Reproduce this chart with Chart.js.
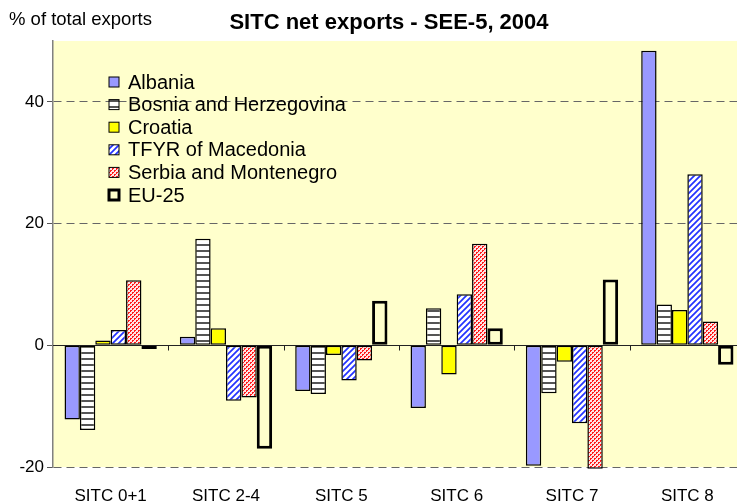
<!DOCTYPE html>
<html><head><meta charset="utf-8">
<script src="https://cdn.jsdelivr.net/npm/chart.js@4.4.1/dist/chart.umd.min.js"></script>
<style>
html,body{margin:0;padding:0;background:#fff;overflow:hidden;width:737px;height:502px}
#wrap{position:relative;width:745px;height:502px}
</style>
</head><body><div id="wrap"><canvas id="c" width="745" height="502"></canvas></div>
<script>
const chartTitle = 'SITC net exports - SEE-5, 2004';
const yAxisTitle = '% of total exports';
const categories = ['SITC 0+1', 'SITC 2-4', 'SITC 5', 'SITC 6', 'SITC 7', 'SITC 8'];
const seriesNames = ['Albania', 'Bosnia and Herzegovina', 'Croatia', 'TFYR of Macedonia', 'Serbia and Montenegro', 'EU-25'];
const albania   = [-12.2,   1.4, -7.5, -10.3, -19.8, 48.4];
const bosnia    = [-13.9,  17.5, -8.0,   6.1,  -7.9,  6.7];
const croatia   = [  0.8,   2.8, -1.6,  -4.8,  -2.7,  5.8];
const macedonia = [  2.5,  -9.1, -5.8,   8.4, -12.8, 28.1];
const serbia    = [ 10.7,  -8.6, -2.5,  16.7, -20.3,  3.9];
const eu25      = [ -0.6, -17.0,  7.3,   2.8,  10.8, -3.2];
const yTicks = [-20, 0, 20, 40];
const yMin = -20, yMax = 50;

const FONT = '"Liberation Sans", Arial, sans-serif';
const plotBg = '#FFFFCC';

function makePattern(w, h, bg, draw) {
  const c = document.createElement('canvas');
  c.width = w; c.height = h;
  const g = c.getContext('2d');
  g.fillStyle = bg; g.fillRect(0, 0, w, h);
  draw(g);
  return document.getElementById('c').getContext('2d').createPattern(c, 'repeat');
}
const bosniaPat = makePattern(8, 6, '#fff', g => { g.fillStyle = '#555'; g.fillRect(0, 4, 8, 2); });
const macedPat = makePattern(6, 6, '#fff', g => {
  g.strokeStyle = '#2233ff'; g.lineWidth = 1.7;
  g.beginPath();
  g.moveTo(-1, 7); g.lineTo(7, -1);
  g.moveTo(-4, 4); g.lineTo(4, -4);
  g.moveTo(2, 10); g.lineTo(10, 2);
  g.stroke();
});
const serbiaPat = makePattern(4, 4, '#ffe4e4', g => {
  g.fillStyle = '#ff1a1a';
  g.fillRect(0, 0, 2, 1); g.fillRect(0, 1, 1, 1);
  g.fillRect(2, 2, 2, 1); g.fillRect(2, 3, 1, 1);
});

const seriesData = [albania, bosnia, croatia, macedonia, serbia, eu25];
const fills = ['#9999FF', bosniaPat, '#FFFF00', macedPat, serbiaPat, plotBg];

const bgPlugin = {
  id: 'bg',
  beforeDraw(chart) {
    const {ctx, chartArea: a} = chart;
    ctx.save(); ctx.fillStyle = plotBg;
    ctx.fillRect(a.left, a.top, a.right - a.left, a.bottom - a.top);
    ctx.restore();
  },
  beforeDatasetsDraw(chart) {
    const {ctx, chartArea: a, scales} = chart;
    const y0 = Math.round(scales.y.getPixelForValue(0)) + 0.5;
    ctx.save();
    ctx.strokeStyle = '#222'; ctx.lineWidth = 1;
    ctx.beginPath(); ctx.moveTo(a.left, y0); ctx.lineTo(a.right, y0); ctx.stroke();
    const x = scales.x;
    ctx.beginPath();
    for (let i = 0; i < categories.length - 1; i++) {
      const bx = Math.round((x.getPixelForValue(i) + x.getPixelForValue(i + 1)) / 2) + 0.5;
      ctx.moveTo(bx, y0); ctx.lineTo(bx, y0 + 5);
    }
    ctx.stroke();
    ctx.restore();
  },
  afterDraw(chart) {
    const {ctx, chartArea: a} = chart;
    ctx.save();
    ctx.fillStyle = '#000';
    ctx.textBaseline = 'middle';
    ctx.font = 'bold 22px ' + FONT; ctx.textAlign = 'center';
    ctx.fillText(chartTitle, 389, 23);
    ctx.font = '18.5px ' + FONT; ctx.textAlign = 'left';
    ctx.fillText(yAxisTitle, 9, 20);
    // legend
    ctx.font = '20px ' + FONT;
    seriesNames.forEach((name, i) => {
      const cy = a.top + 41 + i * 22.6;
      const bx = a.left + 56, bs = 10;
      ctx.fillStyle = fills[i];
      ctx.fillRect(bx, cy - bs / 2, bs, bs);
      ctx.strokeStyle = '#000'; ctx.lineWidth = i === 5 ? 3 : 1;
      ctx.strokeRect(bx, cy - bs / 2, bs, bs);
      ctx.fillStyle = '#000';
      ctx.fillText(name, a.left + 75, cy + 1);
    });
    ctx.restore();
  }
};

new Chart(document.getElementById('c'), {
  type: 'bar',
  data: {
    labels: categories,
    datasets: seriesData.map((d, i) => ({
      label: seriesNames[i],
      data: d,
      backgroundColor: fills[i],
      borderColor: '#000',
      borderWidth: i === 5 ? 3 : 1.5,
      borderSkipped: false,
      categoryPercentage: 0.8,
      barPercentage: 1,
      clip: false
    }))
  },
  options: {
    responsive: false,
    animation: false,
    devicePixelRatio: 1,
    layout: { padding: { top: 41, left: 0, right: 0, bottom: 0 } },
    plugins: { legend: { display: false }, title: { display: false }, tooltip: { enabled: false } },
    scales: {
      x: {
        grid: { display: false, drawTicks: false },
        border: { display: false },
        ticks: { color: '#000', font: { family: FONT, size: 17 }, padding: 19, maxRotation: 0, autoSkip: false },
        afterFit: s => { s.height = 35; }
      },
      y: {
        min: yMin, max: yMax,
        afterBuildTicks: s => { s.ticks = yTicks.map(v => ({ value: v })); },
        afterFit: s => { s.width = 53; },
        ticks: { color: '#000', font: { family: FONT, size: 17 }, padding: 3 },
        grid: {
          color: c => (c.tick && c.tick.value === 0) ? 'rgba(0,0,0,0)' : '#666',
          lineWidth: 1, tickLength: 6, tickColor: '#555', drawTicks: true
        },
        border: { display: true, color: '#808080', width: 1.5, dash: [8, 5] }
      }
    }
  },
  plugins: [bgPlugin]
});
</script>
</body></html>
